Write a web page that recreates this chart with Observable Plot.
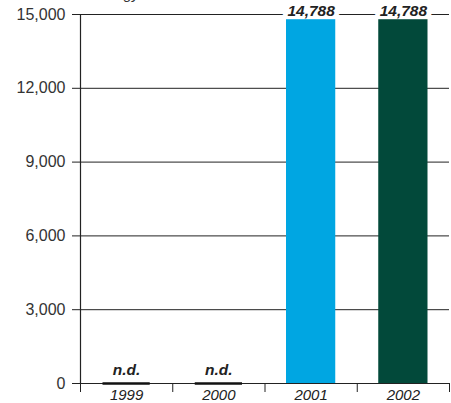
<!DOCTYPE html>
<html>
<head>
<meta charset="utf-8">
<script src="https://cdn.jsdelivr.net/npm/d3@7"></script>
<script src="https://cdn.jsdelivr.net/npm/@observablehq/plot@0.6"></script>
<style>
  html, body { margin: 0; padding: 0; background: #fff; }
  #wrap { position: relative; width: 451px; height: 403px; overflow: hidden; }
  #title { position: absolute; left: 92px; top: -15px; font: italic 15px "Liberation Sans", Arial, sans-serif; color: #333; white-space: nowrap; }
  #chart svg { display: block; }
</style>
</head>
<body>
<div id="wrap">
  <div id="chart"></div>
  <div id="title">Energy</div>
</div>
<script>
const years = ["1999", "2000", "2001", "2002"];
const values = [null, null, 14788, 14788];
const colors = ["#00a6e2", "#00a6e2", "#00a6e2", "#02493a"];
const yTicks = [0, 3000, 6000, 9000, 12000, 15000];

const data = years.map((year, i) => ({ year, i, value: values[i], color: colors[i] }));
const known = data.filter(d => d.value != null);
const missing = data.filter(d => d.value == null);
const font = "'Liberation Sans', Arial, sans-serif";

const chart = Plot.plot({
  width: 451,
  height: 403,
  marginLeft: 80,
  marginRight: 2,
  marginTop: 14,
  marginBottom: 20,
  style: { fontFamily: font, background: "#fff", overflow: "visible" },
  x: { type: "linear", domain: [0, years.length], axis: null },
  y: { domain: [0, 15000], axis: null },
  marks: [
    Plot.gridY(yTicks, { stroke: "#222", strokeOpacity: 1, strokeWidth: 1 }),
    Plot.text(known, {
      x: d => d.i + 0.5, y: "value", text: d => d3.format(",")(d.value),
      lineAnchor: "top", dy: -14.5, fontSize: 15.5, fontWeight: "bold", fontStyle: "italic",
      fill: "#222", stroke: "white", strokeWidth: 10
    }),
    Plot.rectY(known, {
      x1: "i", x2: d => d.i + 1, y: "value", fill: "color",
      insetLeft: 21.5, insetRight: 21.5
    }),
    Plot.ruleX([0], { y1: 0, y2: 15000, stroke: "#222", strokeWidth: 1.2 }),
    Plot.ruleY([0], { stroke: "#222", strokeWidth: 1.2 }),
    Plot.ruleY(missing, {
      y: 0, x1: "i", x2: d => d.i + 1, insetLeft: 22.5, insetRight: 22.5,
      stroke: "#111", strokeWidth: 2.5
    }),
    Plot.text(missing, {
      x: d => d.i + 0.5, y: 0, text: () => "n.d.",
      lineAnchor: "top", dy: -19.5, fontSize: 15.5, fontWeight: "bold", fontStyle: "italic", fill: "#222"
    }),
    Plot.axisY({
      ticks: yTicks, tickSize: 8, tickPadding: 7, tickFormat: d3.format(","),
      fontSize: 16, color: "#333", stroke: "#222", label: null
    }),
    Plot.axisX({
      ticks: d3.range(years.length + 1), tickSize: 9, tickFormat: () => "",
      stroke: "#222", label: null
    }),
    Plot.text(data, {
      x: d => d.i + 0.5, y: 0, text: "year",
      lineAnchor: "top", dy: 6, fontSize: 15, fontStyle: "italic", fill: "#222"
    })
  ]
});
document.getElementById("chart").appendChild(chart);
</script>
</body>
</html>
